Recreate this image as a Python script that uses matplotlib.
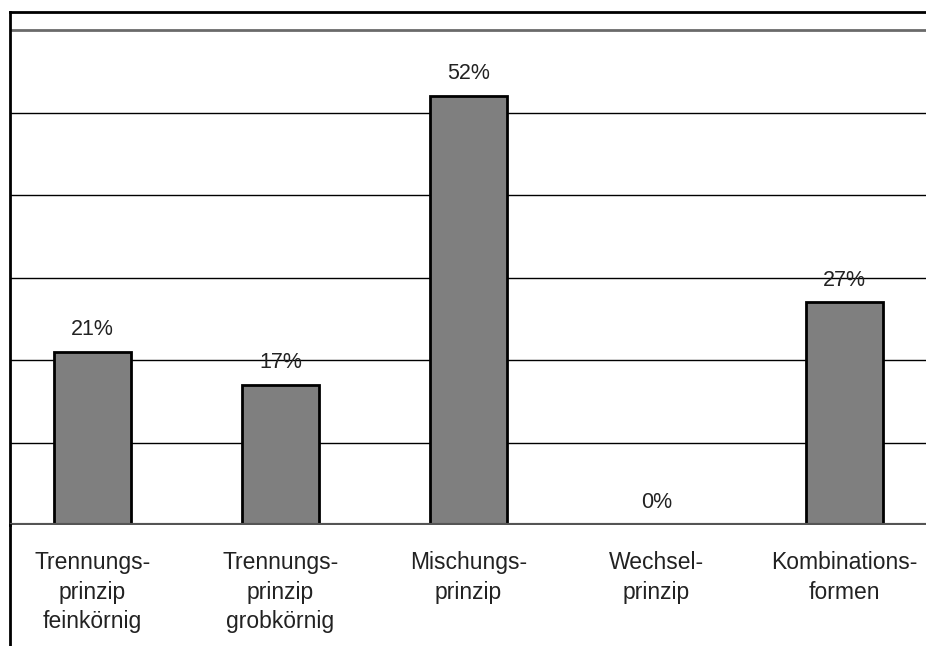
import matplotlib.pyplot as plt
from matplotlib.lines import Line2D

plt.rcParams['font.family'] = ['Liberation Sans', 'DejaVu Sans']

categories = ['Trennungs-\nprinzip\nfeinkörnig',
              'Trennungs-\nprinzip\ngrobkörnig',
              'Mischungs-\nprinzip',
              'Wechsel-\nprinzip',
              'Kombinations-\nformen']
shares = [21, 17, 52, 0, 27]
grid_levels = [10, 20, 30, 40, 50]

fig = plt.figure(figsize=(9.26, 6.46), dpi=100)
ax = fig.add_axes([10 / 926, 121 / 646, 916 / 926, 513 / 646])

x = list(range(len(categories)))
ax.bar(x, shares, width=0.41, color='#7f7f7f', edgecolor='black',
       linewidth=2, zorder=3)

for xi, v in zip(x, shares):
    ax.annotate(f'{v}%', (xi, v), xytext=(0, 12), textcoords='offset points',
                ha='center', va='baseline', fontsize=15.5, color='#222222')

# horizontal rules
for g in grid_levels:
    ax.axhline(g, color='black', linewidth=1, zorder=1)
ax.axhline(60, color='#6a6a6a', linewidth=2, zorder=1)
ax.axhline(0, color='#555555', linewidth=3, zorder=4)

ax.set_xlim(-0.439, 4.434)
ax.set_ylim(0, 62.2)
ax.set_yticks([])
ax.set_xticks(x)
ax.set_xticklabels(categories, fontsize=16.5, color='#222222', linespacing=1.38)
ax.tick_params(axis='x', length=0, pad=18.5)

for side in ['right', 'bottom']:
    ax.spines[side].set_visible(False)
ax.spines['top'].set_linewidth(2)
ax.spines['left'].set_linewidth(2)

# left frame line continues below the plot area
fig.add_artist(Line2D([10 / 926, 10 / 926], [0, 121 / 646], color='black',
                      linewidth=2, transform=fig.transFigure))

fig.savefig('out.png', dpi=100, facecolor='white')
